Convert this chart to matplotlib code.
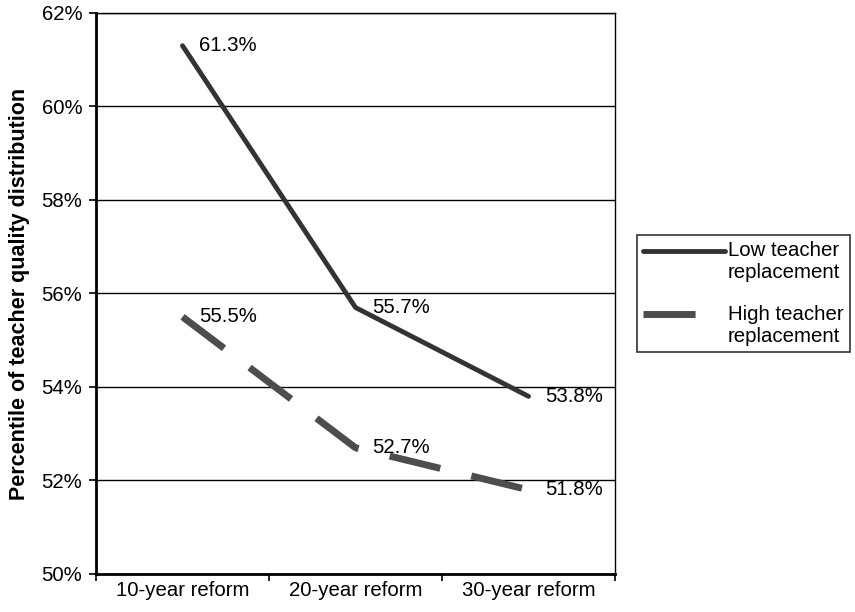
import numpy as np
import matplotlib
matplotlib.use("Agg")
import matplotlib.pyplot as plt
from matplotlib.legend_handler import HandlerLine2D

plt.rcParams['font.family'] = ['Liberation Sans', 'DejaVu Sans']

categories = ["10-year reform", "20-year reform", "30-year reform"]
low_replacement = [61.3, 55.7, 53.8]
high_replacement = [55.5, 52.7, 51.8]
series_names = ["Low teacher\nreplacement", "High teacher\nreplacement"]
y_ticks = [50, 52, 54, 56, 58, 60, 62]

FS = 14.7


class TopLineHandler(HandlerLine2D):
    # put the legend sample next to the first line of a two-line label
    def __init__(self, frac=1.0, **kw):
        super().__init__(**kw)
        self.frac = frac

    def create_artists(self, legend, orig_handle, xdescent, ydescent,
                       width, height, fontsize, trans):
        artists = super().create_artists(legend, orig_handle, xdescent, ydescent,
                                          width, height, fontsize, trans)
        for a in artists:
            xd = np.asarray(a.get_xdata(), dtype=float)
            yd = np.asarray(a.get_ydata(), dtype=float)
            if len(xd) == 2:
                xd[1] = xd[0] + (xd[1] - xd[0]) * self.frac
                a.set_xdata(xd)
            a.set_ydata(yd + 0.56 * fontsize)
        return artists


fig = plt.figure(figsize=(8.55, 6.12), dpi=100)
ax = fig.add_axes([0.1123, 0.0621, 0.6070, 0.9167])

x = np.arange(len(categories)) + 0.5

low_line, = ax.plot(x, low_replacement, color="#333333", lw=3.5,
                    solid_capstyle="round", solid_joinstyle="round",
                    label=series_names[0], zorder=3)
high_line, = ax.plot(x, high_replacement, color="#4d4d4d", lw=5.0,
                     linestyle=(0, (7.5, 4.6)), dash_capstyle="butt",
                     label=series_names[1], zorder=3)

for vals in (low_replacement, high_replacement):
    for xi, v in zip(x, vals):
        ax.annotate(f"{v:.1f}%", (xi, v), xytext=(12, 0),
                    textcoords="offset points", ha="left", va="center",
                    fontsize=FS, color="black", zorder=4)

ax.set_xlim(0, 3)
ax.set_ylim(50, 62)
ax.set_yticks(y_ticks)
ax.set_yticklabels([f"{t}%" for t in y_ticks])
ax.yaxis.grid(True, color="black", lw=1.0)
ax.set_axisbelow(True)

# category labels centred between boundary ticks
ax.set_xticks([0, 1, 2, 3])
ax.set_xticklabels([])
ax.set_xticks(x, minor=True)
ax.set_xticklabels(categories, minor=True)
ax.tick_params(axis="x", which="minor", length=0, labelsize=FS, pad=5)
ax.tick_params(axis="x", which="major", length=5, width=1.2, direction="out")
ax.tick_params(axis="y", length=5, width=1.2, direction="out", labelsize=FS, pad=5)

ax.spines["left"].set_linewidth(2)
ax.spines["bottom"].set_linewidth(2)
ax.spines["top"].set_linewidth(1)
ax.spines["right"].set_linewidth(1)

ax.set_ylabel("Percentile of teacher quality distribution", fontsize=15.5,
              fontweight="bold", labelpad=8)

leg = fig.legend(handles=[low_line, high_line],
                 loc="upper left", bbox_to_anchor=(0.745, 0.616),
                 frameon=True, fancybox=False, edgecolor="black",
                 fontsize=FS, handlelength=4.0, handletextpad=0.15,
                 borderpad=0.3, labelspacing=1.1, borderaxespad=0,
                 handler_map={low_line: TopLineHandler(1.0),
                              high_line: TopLineHandler(0.7)})
leg.get_frame().set_linewidth(1.2)

fig.savefig("out.png", dpi=100)
